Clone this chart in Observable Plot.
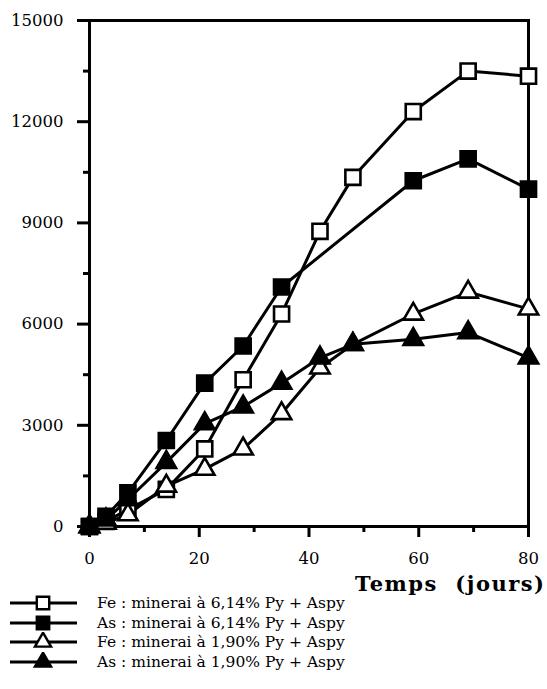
<!DOCTYPE html>
<html><head><meta charset="utf-8">
<script src="https://cdn.jsdelivr.net/npm/d3@7"></script>
<script src="https://cdn.jsdelivr.net/npm/@observablehq/plot@0.6"></script>
<style>
body{margin:0;background:#fff;}
#wrap{position:relative;width:547px;height:689px;overflow:hidden;}
.row{position:absolute;left:0;height:20px;width:547px;}
.row svg{position:absolute;left:0;top:0;}
.row span{position:absolute;left:97px;top:0;line-height:20px;font-family:"DejaVu Serif";font-size:15.5px;color:#000;white-space:nowrap;letter-spacing:0px;}
</style></head><body>
<div id="wrap"><div id="chart"></div></div>
<script>
// ---- data ----
const seriesLabels = [
  "Fe : minerai à 6,14% Py + Aspy",
  "As : minerai à 6,14% Py + Aspy",
  "Fe : minerai à 1,90% Py + Aspy",
  "As : minerai à 1,90% Py + Aspy"
];
const seriesSymbols = ["square", "square", "triangle", "triangle"];
const seriesFills = ["white", "black", "white", "black"];

const fe614Days   = [0, 3, 7, 14, 21, 28, 35, 42, 48, 59, 69, 80];
const fe614Values = [0, 150, 500, 1100, 2300, 4350, 6300, 8750, 10350, 12300, 13500, 13350];

const as614Days   = [0, 3, 7, 14, 21, 28, 35, 59, 69, 80];
const as614Values = [0, 300, 1000, 2550, 4250, 5350, 7100, 10250, 10900, 10000];

const fe190Days   = [0, 3, 7, 14, 21, 28, 35, 42, 48, 59, 69, 80];
const fe190Values = [0, 100, 350, 1200, 1700, 2300, 3350, 4700, 5400, 6300, 6950, 6450];

const as190Days   = [0, 3, 7, 14, 21, 28, 35, 42, 48, 59, 69, 80];
const as190Values = [0, 200, 800, 1900, 3050, 3550, 4250, 5000, 5400, 5550, 5750, 5000];

const xMajorTicks = [0, 20, 40, 60, 80];
const xMinorTicks = [10, 30, 50, 70];
const yMajorTicks = [0, 3000, 6000, 9000, 12000, 15000];
const yMinorTicks = [1500, 4500, 7500, 10500, 13500];
const xAxisLabel = "Temps  (jours)";

// ---- build table ----
const allDays = [fe614Days, as614Days, fe190Days, as190Days];
const allValues = [fe614Values, as614Values, fe190Values, as190Values];
const series = allDays.map((days, i) => days.map((d, j) => ({s: i, day: d, value: allValues[i][j]})));

const lineMarks = series.map(data => Plot.line(data, {x: "day", y: "value", stroke: "black", strokeWidth: 3}));
const dotMarks = series.map((data, i) => Plot.dot(data, {
  x: "day", y: "value", symbol: () => seriesSymbols[i], r: seriesSymbols[i] === "square" ? 8.5 : 7.2,
  fill: seriesFills[i], stroke: "black", strokeWidth: 2.6
}));

const chart = Plot.plot({
  width: 547,
  height: 610,
  marginLeft: 89,
  marginRight: 19,
  marginTop: 20,
  marginBottom: 84,
  style: {fontFamily: "'DejaVu Serif'", fontSize: "16.5px", color: "black", background: "white"},
  x: {domain: [0, 80]},
  y: {domain: [0, 15000]},
  marks: [
    Plot.axisX({ticks: xMajorTicks, tickSize: 11, tickPadding: 15, strokeWidth: 3, label: null, tickFormat: d => String(d)}),
    Plot.axisX({ticks: xMinorTicks, tickSize: 6, strokeWidth: 3, label: null, tickFormat: () => ""}),
    Plot.axisY({ticks: yMajorTicks, tickSize: 12, tickPadding: 14, strokeWidth: 3, label: null, tickFormat: d => String(d)}),
    Plot.axisY({ticks: yMinorTicks, tickSize: 6, strokeWidth: 3, label: null, tickFormat: () => ""}),
    Plot.frame({stroke: "black", strokeWidth: 3}),
    ...lineMarks,
    ...dotMarks,
    Plot.text([xAxisLabel], {frameAnchor: "bottom-right", text: d => d, dx: 17, dy: 64, textAnchor: "end",
      fontWeight: "bold", fontSize: 21, fontFamily: "DejaVu Serif"})
  ]
});
document.getElementById("chart").appendChild(chart);
d3.select(chart).selectAll("text").filter(function(){ return this.textContent.indexOf("Temps") >= 0; })
  .style("letter-spacing", "1.5px").style("white-space", "pre");

// ---- legend ----
const wrap = document.getElementById("wrap");
const rowTops = [593, 613, 632, 652];
seriesLabels.forEach((lab, i) => {
  const row = document.createElement("div");
  row.className = "row";
  row.style.top = rowTops[i] + "px";
  const svg = d3.create("svg").attr("width", 90).attr("height", 20);
  svg.append("line").attr("x1", 10).attr("x2", 77).attr("y1", 10).attr("y2", 10)
    .attr("stroke", "black").attr("stroke-width", 3);
  const sym = seriesSymbols[i] === "square" ? d3.symbolSquare : d3.symbolTriangle;
  const rr = seriesSymbols[i] === "square" ? 7 : 6;
  svg.append("path").attr("d", d3.symbol(sym, Math.PI * rr * rr)())
    .attr("transform", "translate(43,10)")
    .attr("fill", seriesFills[i]).attr("stroke", "black").attr("stroke-width", 2.4);
  row.appendChild(svg.node());
  const sp = document.createElement("span");
  sp.textContent = lab;
  row.appendChild(sp);
  wrap.appendChild(row);
});
</script>
</body></html>
